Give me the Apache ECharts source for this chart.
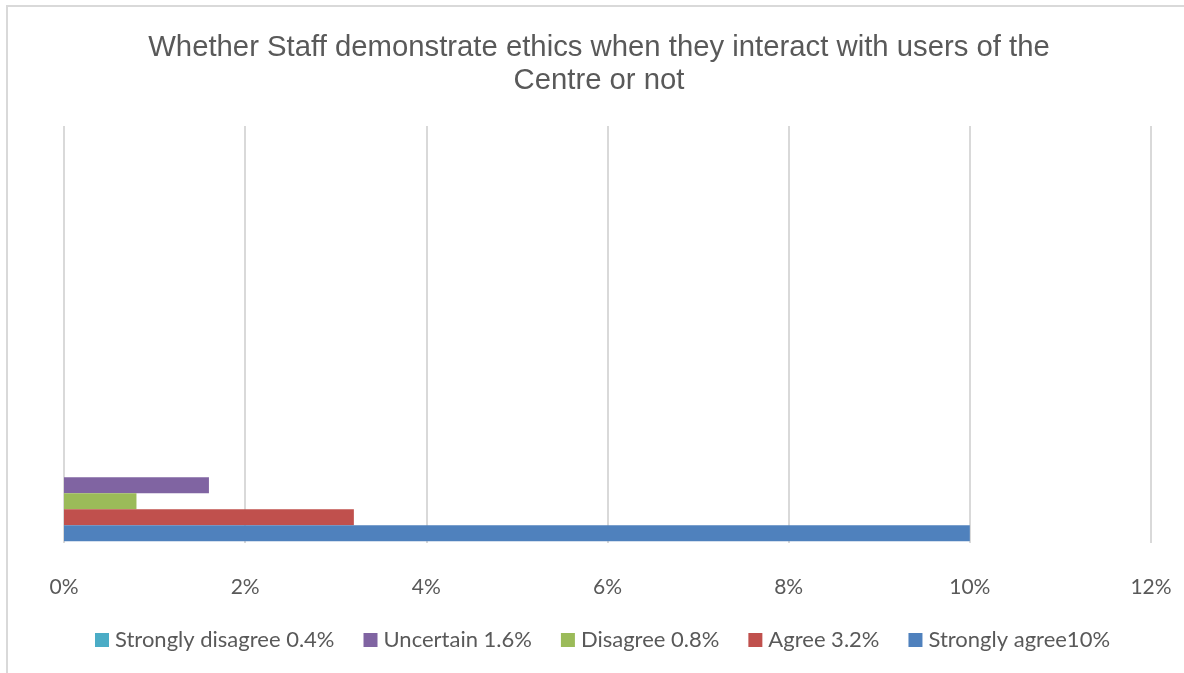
<!DOCTYPE html>
<html>
<head>
<meta charset="utf-8">
<script src="https://cdn.jsdelivr.net/npm/echarts@6/dist/echarts.min.js"></script>
<style>html,body{margin:0;padding:0;background:#fff}#c{width:1184px;height:673px}</style>
</head>
<body>
<div id="c"></div>
<script>
var titleText = 'Whether Staff demonstrate ethics when they interact with users of the\nCentre or not';
var categories = ['Response'];
// top to bottom as drawn (also legend order)
var seriesNames = ['Strongly disagree 0.4%', 'Uncertain 1.6%', 'Disagree 0.8%', 'Agree 3.2%', 'Strongly agree10%'];
var seriesValues = [[null], [1.6], [0.8], [3.2], [10]];
var seriesColors = ['#4BACC6', '#8064A2', '#9BBB59', '#C0504D', '#4F81BD'];
var xTicks = [0, 2, 4, 6, 8, 10, 12];

var chart = echarts.init(document.getElementById('c'));
var series = seriesNames.map(function (n, i) {
  return {
    name: n, type: 'bar', data: seriesValues[i],
    barWidth: 16, barGap: '0%',
    itemStyle: { color: seriesColors[i] },
    emphasis: { disabled: true }
  };
});
chart.setOption({
  animation: false,
  title: {
    text: titleText, left: 594, top: 26, textAlign: 'center',
    textStyle: { fontFamily: 'Liberation Sans', fontWeight: 'normal', fontSize: 29.3, color: '#595959', lineHeight: 33 }
  },
  graphic: [{
    type: 'rect', shape: { x: 7, y: 6, width: 1200, height: 700 },
    style: { fill: 'none', stroke: '#d9d9d9', lineWidth: 2 }, silent: true
  }],
  legend: {
    data: seriesNames, top: 624, left: 90,
    itemWidth: 14, itemHeight: 14, itemGap: 29, icon: 'rect',
    textStyle: { fontFamily: 'Lato', fontSize: 22, color: '#595959', padding: [0, 0, 0, 1] }
  },
  grid: { left: 64, right: 33, top: 126, bottom: 130 },
  xAxis: {
    type: 'value', min: xTicks[0], max: xTicks[xTicks.length - 1], interval: 2,
    axisLine: { show: false }, axisTick: { show: false },
    axisLabel: { formatter: '{value}%', fontFamily: 'Lato', fontSize: 21, color: '#595959', margin: 34 },
    splitLine: { lineStyle: { color: '#d9d9d9', width: 2 } }
  },
  yAxis: {
    type: 'category', data: categories, max: 4,
    axisLine: { show: false }, axisTick: { show: false }, axisLabel: { show: false },
    splitLine: { show: false }
  },
  series: series
});
</script>
</body>
</html>
